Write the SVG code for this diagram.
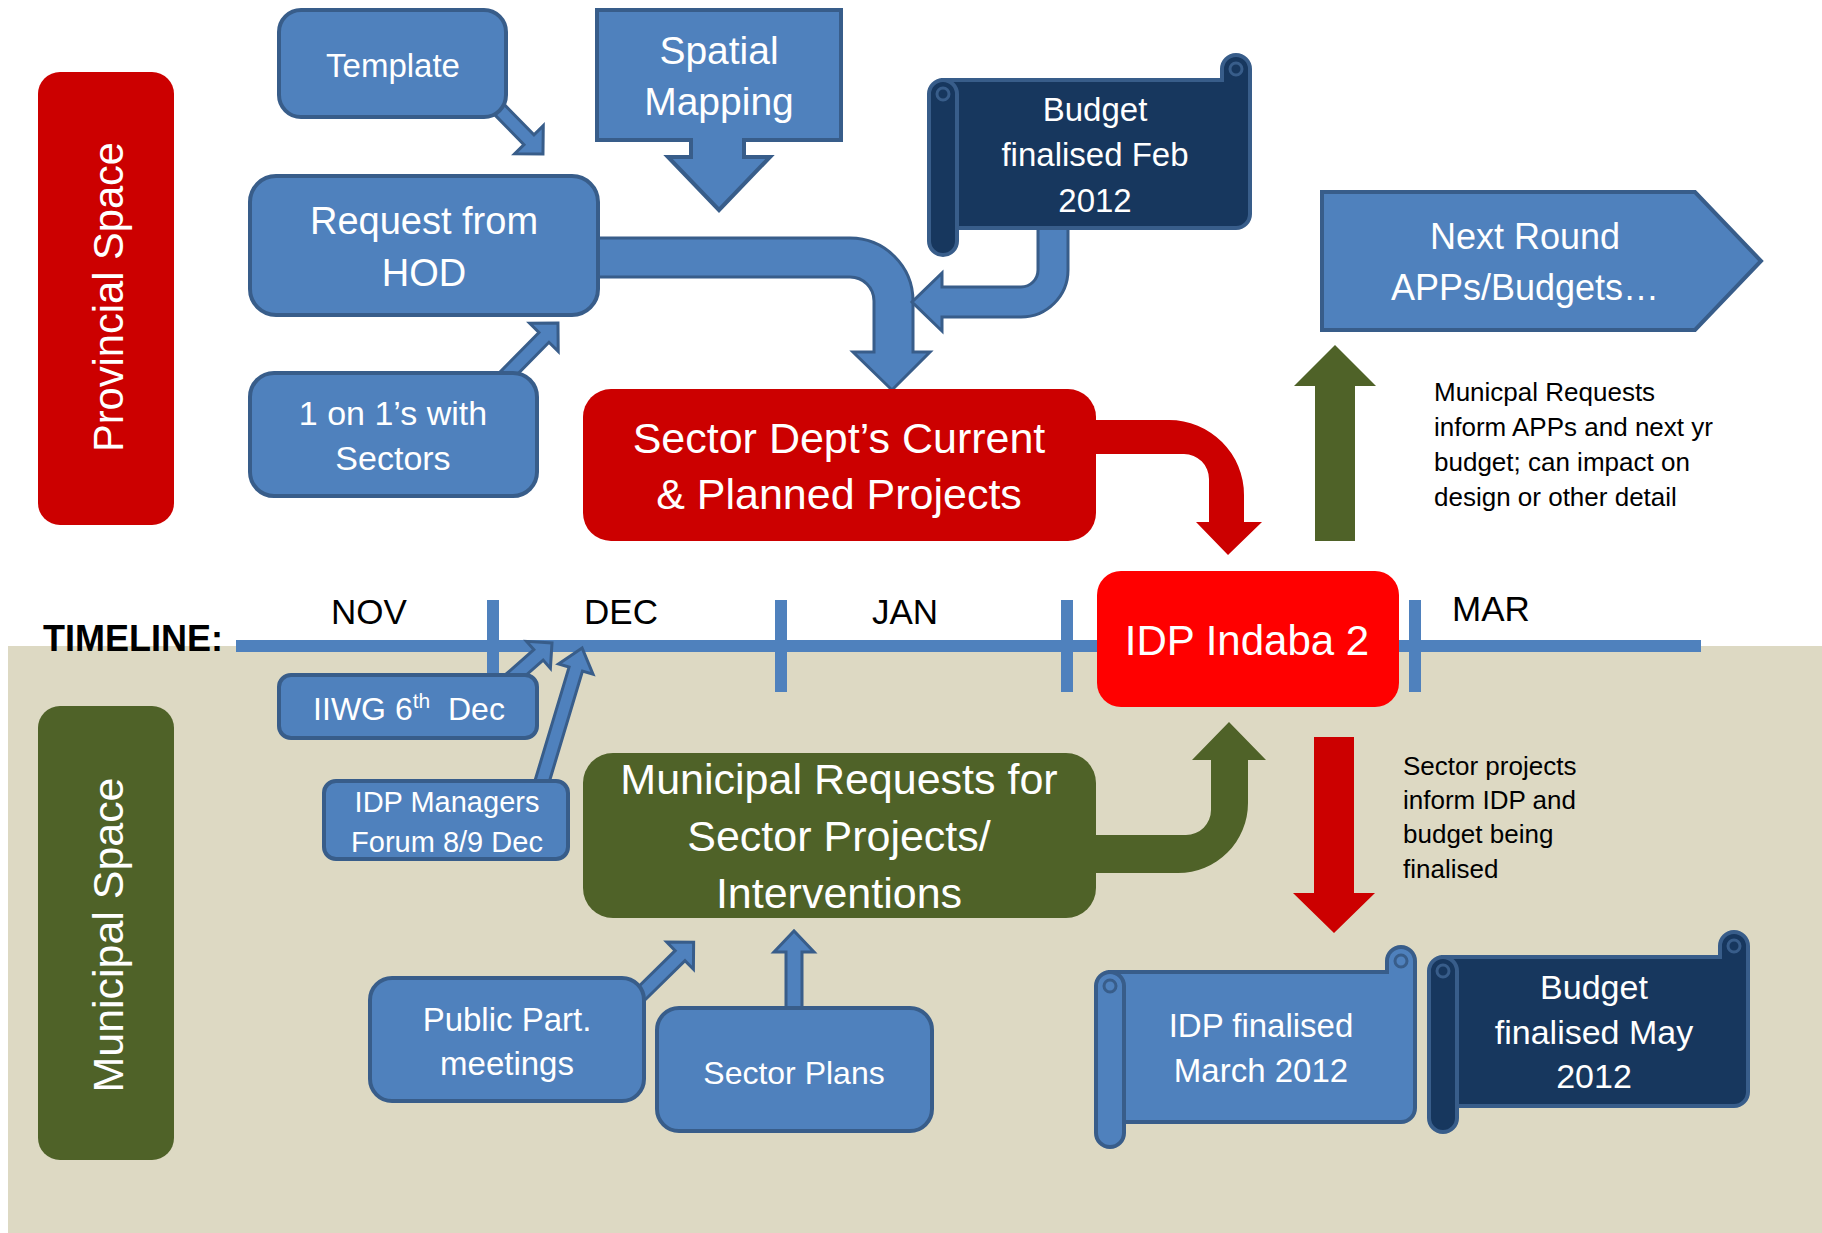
<svg xmlns="http://www.w3.org/2000/svg" width="1822" height="1233" viewBox="0 0 1822 1233">
<style>
text{font-family:"Liberation Sans",Arial,sans-serif;fill:#fff}
.dark{fill:#000}
.mid{text-anchor:middle}
.blue{fill:#4F81BD;stroke:#385D8A;stroke-width:4}
.arr{fill:#4F81BD;stroke:#385D8A;stroke-width:3}
.navy{fill:#17375E;stroke:#385D8A;stroke-width:4}
.curl{fill:none;stroke:#385D8A;stroke-width:3}
.tl{fill:#4F81BD}
</style>
<g id="background">
<rect x="0" y="0" width="1822" height="1233" fill="#fff"/>
<rect x="8" y="646" width="1814" height="587" fill="#DDD9C3"/>
</g>
<g id="timeline">
<rect class="tl" x="236" y="640" width="1465" height="12"/>
<rect class="tl" x="487" y="600" width="12" height="92"/>
<rect class="tl" x="775" y="600" width="12" height="92"/>
<rect class="tl" x="1061" y="600" width="12" height="92"/>
<rect class="tl" x="1409" y="600" width="12" height="92"/>
<text class="dark" x="43" y="651" font-size="36" font-weight="bold">TIMELINE:</text>
<text class="dark mid" x="369" y="624" font-size="35">NOV</text>
<text class="dark mid" x="621" y="624" font-size="35">DEC</text>
<text class="dark mid" x="905" y="624" font-size="35">JAN</text>
<text class="dark mid" x="1491" y="621" font-size="35">MAR</text>
</g>
<g id="connectors">
<polygon class="arr" points="0,-7 50,-7 50,-20 70,0 50,20 50,7 0,7" transform="translate(494,104) rotate(45.6)"/>
<polygon class="arr" points="0,-7 57,-7 57,-20 77,0 57,20 57,7 0,7" transform="translate(504,378) rotate(-45.5)"/>
<path class="arr" d="M590,238 H850 A63 63 0 0 1 913,301 V352 H930 L892,390 L853,352 H874 V301 A24 24 0 0 0 850,277 H590 Z"/>
<path class="arr" d="M1038,225 V270 A17 17 0 0 1 1021,287 H942 V273 L912,302 L942,331 V317 H1021 A47 47 0 0 0 1068,270 V225 Z"/>
<path fill="#CC0000" d="M1090,420 H1169 A75 75 0 0 1 1244,495 V522 H1262 L1228,555 L1196,522 H1209 V479 A25 25 0 0 0 1184,454 H1090 Z"/>
<polygon fill="#4F6228" points="1315,541 1315,386 1294,386 1335,345 1376,386 1355,386 1355,541"/>
<polygon class="arr" points="0,-7 38,-7 38,-18 56,0 38,18 38,7 0,7" transform="translate(510,680) rotate(-41.4)"/>
<polygon class="arr" points="0,-7 121,-7 121,-18 143,0 121,18 121,7 0,7" transform="translate(541,785) rotate(-73.3)"/>
<path fill="#4F6228" d="M1090,835 H1186 A25 25 0 0 0 1211,810 V760 H1192 L1229,722 L1266,760 H1248 V803 A70 70 0 0 1 1178,873 H1090 Z"/>
<polygon fill="#CC0000" points="1314,737 1314,893 1293,893 1334,933 1375,893 1354,893 1354,737"/>
<polygon class="arr" points="0,-7 59,-7 59,-19 78,0 59,19 59,7 0,7" transform="translate(638,997) rotate(-44.5)"/>
<polygon class="arr" points="786,1012 786,952 774,952 794,931 814,952 802,952 802,1012"/>
</g>
<g id="provincial-space">
<rect x="38" y="72" width="136" height="453" rx="22" fill="#CC0000"/>
<text class="mid" transform="translate(123,297) rotate(-90)" font-size="42" textLength="310" lengthAdjust="spacingAndGlyphs">Provincial Space</text>
</g>
<g id="municipal-space">
<rect x="38" y="706" width="136" height="454" rx="22" fill="#4F6228"/>
<text class="mid" transform="translate(123,935) rotate(-90)" font-size="43" textLength="315" lengthAdjust="spacingAndGlyphs">Municipal Space</text>
</g>
<g id="template">
<rect class="blue" x="279" y="10" width="227" height="107" rx="22"/>
<text class="mid" x="393" y="77" font-size="33">Template</text>
</g>
<g id="spatial-mapping">
<path class="blue" d="M597,10 H841 V140 H744 V157 H770 L719,210 L668,157 H691 V140 H597 Z"/>
<text class="mid" x="719" y="64" font-size="39">Spatial</text>
<text class="mid" x="719" y="115" font-size="39">Mapping</text>
</g>
<g id="request-hod">
<rect class="blue" x="250" y="176" width="348" height="139" rx="26"/>
<text class="mid" x="424" y="234" font-size="38">Request from</text>
<text class="mid" x="424" y="286" font-size="38">HOD</text>
</g>
<g id="one-on-ones">
<rect class="blue" x="250" y="373" width="287" height="123" rx="24"/>
<text class="mid" x="393" y="425" font-size="34">1 on 1’s with</text>
<text class="mid" x="393" y="470" font-size="34">Sectors</text>
</g>
<g id="budget-feb">
<path class="navy" d="M943,80 H1222 V69 A14 14 0 0 1 1250,69 V214 A14 14 0 0 1 1236,228 H943 Z"/>
<rect class="navy" x="929" y="80" width="28" height="175" rx="14"/>
<circle class="curl" cx="1236" cy="69" r="6"/>
<circle class="curl" cx="943" cy="94" r="6"/>
<text class="mid" x="1095" y="121" font-size="33">Budget</text>
<text class="mid" x="1095" y="166" font-size="33">finalised Feb</text>
<text class="mid" x="1095" y="212" font-size="33">2012</text>
</g>
<g id="next-round">
<path class="blue" d="M1322,192 H1695 L1761,261 L1695,330 H1322 Z"/>
<text class="mid" x="1525" y="249" font-size="36">Next Round</text>
<text class="mid" x="1525" y="300" font-size="36">APPs/Budgets…</text>
</g>
<g id="note-municipal">
<text class="dark" x="1434" y="401" font-size="26">Municpal Requests</text>
<text class="dark" x="1434" y="436" font-size="26">inform APPs and next yr</text>
<text class="dark" x="1434" y="471" font-size="26">budget; can impact on</text>
<text class="dark" x="1434" y="506" font-size="26">design or other detail</text>
</g>
<g id="sector-dept">
<rect x="583" y="389" width="513" height="152" rx="28" fill="#CC0000"/>
<text class="mid" x="839" y="453" font-size="43">Sector Dept’s Current</text>
<text class="mid" x="839" y="509" font-size="43">&amp; Planned Projects</text>
</g>
<g id="idp-indaba">
<rect x="1097" y="571" width="302" height="136" rx="24" fill="#FF0000"/>
<text class="mid" x="1247" y="655" font-size="42">IDP Indaba 2</text>
</g>
<g id="iiwg">
<rect class="blue" x="279" y="675" width="258" height="63" rx="12"/>
<text class="mid" x="409" y="720" font-size="32">IIWG 6<tspan dy="-12" font-size="21">th</tspan><tspan dy="12">&#160; Dec</tspan></text>
</g>
<g id="idp-managers">
<rect class="blue" x="324" y="781" width="244" height="78" rx="12"/>
<text class="mid" x="447" y="812" font-size="29">IDP Managers</text>
<text class="mid" x="447" y="852" font-size="29">Forum 8/9 Dec</text>
</g>
<g id="municipal-requests">
<rect x="583" y="753" width="513" height="165" rx="30" fill="#4F6228"/>
<text class="mid" x="839" y="794" font-size="43">Municipal Requests for</text>
<text class="mid" x="839" y="851" font-size="43">Sector Projects/</text>
<text class="mid" x="839" y="908" font-size="43">Interventions</text>
</g>
<g id="note-sector">
<text class="dark" x="1403" y="775" font-size="26">Sector projects</text>
<text class="dark" x="1403" y="809" font-size="26">inform IDP and</text>
<text class="dark" x="1403" y="843" font-size="26">budget being</text>
<text class="dark" x="1403" y="878" font-size="26">finalised</text>
</g>
<g id="public-part">
<rect class="blue" x="370" y="978" width="274" height="123" rx="22"/>
<text class="mid" x="507" y="1031" font-size="33">Public Part.</text>
<text class="mid" x="507" y="1075" font-size="33">meetings</text>
</g>
<g id="sector-plans">
<rect class="blue" x="657" y="1008" width="275" height="123" rx="22"/>
<text class="mid" x="794" y="1084" font-size="32">Sector Plans</text>
</g>
<g id="idp-finalised">
<path class="blue" d="M1110,972 H1387 V961 A14 14 0 0 1 1415,961 V1108 A14 14 0 0 1 1401,1122 H1110 Z"/>
<rect class="blue" x="1096" y="972" width="28" height="175" rx="14"/>
<circle class="curl" cx="1401" cy="961" r="6"/>
<circle class="curl" cx="1110" cy="986" r="6"/>
<text class="mid" x="1261" y="1037" font-size="33">IDP finalised</text>
<text class="mid" x="1261" y="1082" font-size="33">March 2012</text>
</g>
<g id="budget-may">
<path class="navy" d="M1443,957 H1720 V946 A14 14 0 0 1 1748,946 V1092 A14 14 0 0 1 1734,1106 H1443 Z"/>
<rect class="navy" x="1429" y="957" width="28" height="175" rx="14"/>
<circle class="curl" cx="1734" cy="946" r="6"/>
<circle class="curl" cx="1443" cy="971" r="6"/>
<text class="mid" x="1594" y="999" font-size="34">Budget</text>
<text class="mid" x="1594" y="1044" font-size="34">finalised May</text>
<text class="mid" x="1594" y="1088" font-size="34">2012</text>
</g>
</svg>
